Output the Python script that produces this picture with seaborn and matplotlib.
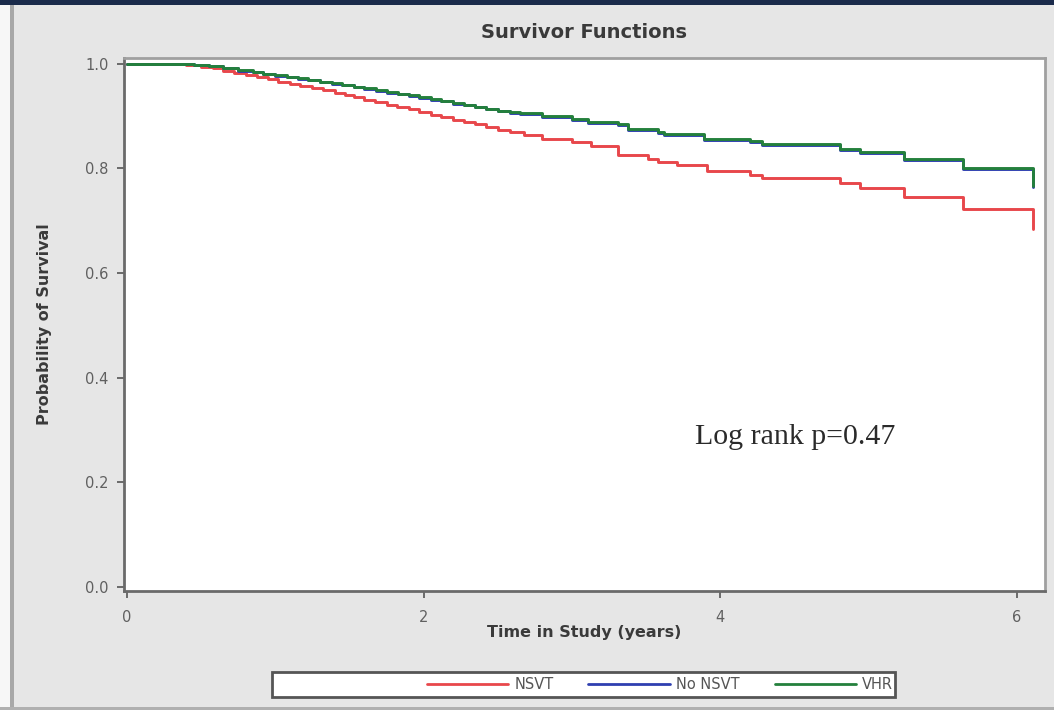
import matplotlib
matplotlib.use("Agg")
import matplotlib.pyplot as plt
import seaborn as sns
import pandas as pd
from matplotlib.patches import Rectangle
from matplotlib.lines import Line2D

# ---- data ----
groups = ["NSVT", "No NSVT", "VHR"]

nsvt_t = [0, 0.25, 0.40, 0.50, 0.58, 0.65, 0.72, 0.80, 0.88, 0.95, 1.02, 1.10, 1.17,
          1.25, 1.32, 1.40, 1.47, 1.53, 1.60, 1.67, 1.75, 1.82, 1.90, 1.97, 2.05, 2.12,
          2.20, 2.27, 2.35, 2.42, 2.50, 2.58, 2.68, 2.80,
          3.00, 3.13, 3.31, 3.51, 3.58, 3.71, 3.91, 4.20, 4.28, 4.81, 4.94, 5.24, 5.64, 6.11]
nsvt_s = [1.000, 0.999, 0.997, 0.994, 0.991, 0.987, 0.983, 0.979, 0.975, 0.970, 0.966,
          0.962, 0.958, 0.954, 0.950, 0.945, 0.940, 0.936, 0.931, 0.927, 0.922, 0.918,
          0.913, 0.908, 0.902, 0.898, 0.893, 0.889, 0.884, 0.879, 0.873, 0.869, 0.864,
          0.857,
          0.850, 0.843, 0.825, 0.818, 0.812, 0.806, 0.795, 0.788, 0.782, 0.772, 0.762,
          0.745, 0.723, 0.685]

other_t = [0, 0.30, 0.45, 0.55, 0.65, 0.75, 0.85, 0.92, 1.00, 1.08, 1.15, 1.22, 1.30,
           1.38, 1.45, 1.53, 1.60, 1.68, 1.75, 1.83, 1.90, 1.97, 2.05, 2.12, 2.20, 2.27,
           2.35, 2.42, 2.50, 2.58, 2.65, 2.80,
           3.00, 3.11, 3.31, 3.38, 3.58, 3.62, 3.89, 4.20, 4.28, 4.81, 4.94, 5.24, 5.64, 6.11]
vhr_s = [1.000, 0.999, 0.997, 0.995, 0.992, 0.988, 0.985, 0.981, 0.978, 0.975, 0.972,
         0.969, 0.966, 0.963, 0.960, 0.956, 0.953, 0.949, 0.946, 0.943, 0.940, 0.936,
         0.932, 0.929, 0.925, 0.922, 0.918, 0.914, 0.910, 0.907, 0.905, 0.900,
         0.894, 0.889, 0.884, 0.875, 0.869, 0.865, 0.856, 0.853, 0.846, 0.837, 0.831,
         0.818, 0.801, 0.767]
nonsvt_s = [1.000, 0.999, 0.997, 0.995, 0.991, 0.987, 0.984, 0.980, 0.977, 0.974, 0.971,
            0.968, 0.965, 0.962, 0.959, 0.955, 0.952, 0.948, 0.945, 0.942, 0.939, 0.935,
            0.931, 0.928, 0.924, 0.921, 0.917, 0.913, 0.909, 0.906, 0.904, 0.899,
            0.892, 0.887, 0.882, 0.873, 0.867, 0.863, 0.854, 0.851, 0.844, 0.835, 0.829,
            0.816, 0.799, 0.765]

x_ticks = [0, 2, 4, 6]
y_ticks = [0.0, 0.2, 0.4, 0.6, 0.8, 1.0]
y_tick_labels = ["0.0", "0.2", "0.4", "0.6", "0.8", "1.0"]

colors = {"NSVT": "#e8474b", "No NSVT": "#2f3fb0", "VHR": "#24803c"}

df = pd.concat([
    pd.DataFrame({"time": nsvt_t, "surv": nsvt_s, "group": "NSVT"}),
    pd.DataFrame({"time": other_t, "surv": nonsvt_s, "group": "No NSVT"}),
    pd.DataFrame({"time": other_t, "surv": vhr_s, "group": "VHR"}),
], ignore_index=True)

sns.set_style("white")
plt.rcParams["font.family"] = ["DejaVu Sans"]

fig = plt.figure(figsize=(10.54, 7.10), dpi=100)
fig.patch.set_facecolor("#e6e6e6")

# screenshot frame
fig.patches.append(Rectangle((0, 0), 10 / 1054, 1, transform=fig.transFigure,
                             facecolor="#f7f7f7", edgecolor="none", zorder=0))
fig.patches.append(Rectangle((10 / 1054, 0), 4 / 1054, 1, transform=fig.transFigure,
                             facecolor="#a8a8a8", edgecolor="none", zorder=0))
fig.patches.append(Rectangle((0, 1 - 5 / 710), 1, 5 / 710, transform=fig.transFigure,
                             facecolor="#1b2b4b", edgecolor="none", zorder=0))
fig.patches.append(Rectangle((0, 0), 1, 3 / 710, transform=fig.transFigure,
                             facecolor="#b0b0b0", edgecolor="none", zorder=0))

ax = fig.add_axes([124 / 1054, 1 - 591 / 710, (1045 - 124) / 1054, (591 - 58) / 710])
ax.set_facecolor("white")

sns.lineplot(data=df, x="time", y="surv", hue="group", hue_order=groups,
             palette=colors, drawstyle="steps-post", linewidth=2.1,
             estimator=None, sort=False, legend=False, ax=ax)

ax.set_xlim(-0.02, 6.19)
ax.set_ylim(-0.008, 1.011)
ax.set_xticks(x_ticks)
ax.set_xticklabels([str(v) for v in x_ticks])
ax.set_yticks(y_ticks)
ax.set_yticklabels(y_tick_labels)
ax.tick_params(axis="both", direction="out", length=5, width=1.2, color="#555555",
               labelsize=10.5, labelcolor="#606060", bottom=True, left=True)
ax.tick_params(axis="x", pad=9)
ax.tick_params(axis="y", pad=6)

for side in ["left", "bottom"]:
    ax.spines[side].set_color("#6a6a6a")
    ax.spines[side].set_linewidth(2.0)
for side in ["top", "right"]:
    ax.spines[side].set_color("#a0a0a0")
    ax.spines[side].set_linewidth(2.0)

ax.set_xlabel("Time in Study (years)", fontsize=11.5, fontweight="bold",
              color="#3a3a3a")
ax.set_ylabel("Probability of Survival", fontsize=11.5, fontweight="bold",
              color="#3a3a3a")
ax.xaxis.set_label_coords(0.5, -0.063)
ax.yaxis.set_label_coords(-0.078, 0.5)

fig.text(584 / 1054, 1 - 33 / 710, "Survivor Functions", fontsize=14,
         fontweight="bold", color="#3a3a3a", ha="center", va="center")

ax.text(3.83, 0.287, "Log rank p=0.47", family=["Liberation Serif", "DejaVu Serif"],
        fontsize=21.5, color="#2a2a2a", ha="left", va="center")

# legend box
fig.patches.append(Rectangle((272 / 1054, 1 - 697 / 710), (895 - 272) / 1054, 25 / 710,
                             transform=fig.transFigure, facecolor="white",
                             edgecolor="#555555", linewidth=2, zorder=2))
handles = [Line2D([0], [0], color=colors[g], linewidth=2) for g in groups]
leg = fig.legend(handles, groups, loc="center right",
                 bbox_to_anchor=(893 / 1054, 1 - 684.5 / 710), ncol=3, frameon=False,
                 fontsize=10.5, handlelength=5.6, handletextpad=0.4, columnspacing=2.4,
                 borderaxespad=0, borderpad=0)
for t in leg.get_texts():
    t.set_color("#555555")
leg.set_zorder(3)

fig.savefig("out.png", dpi=100, facecolor=fig.get_facecolor())
